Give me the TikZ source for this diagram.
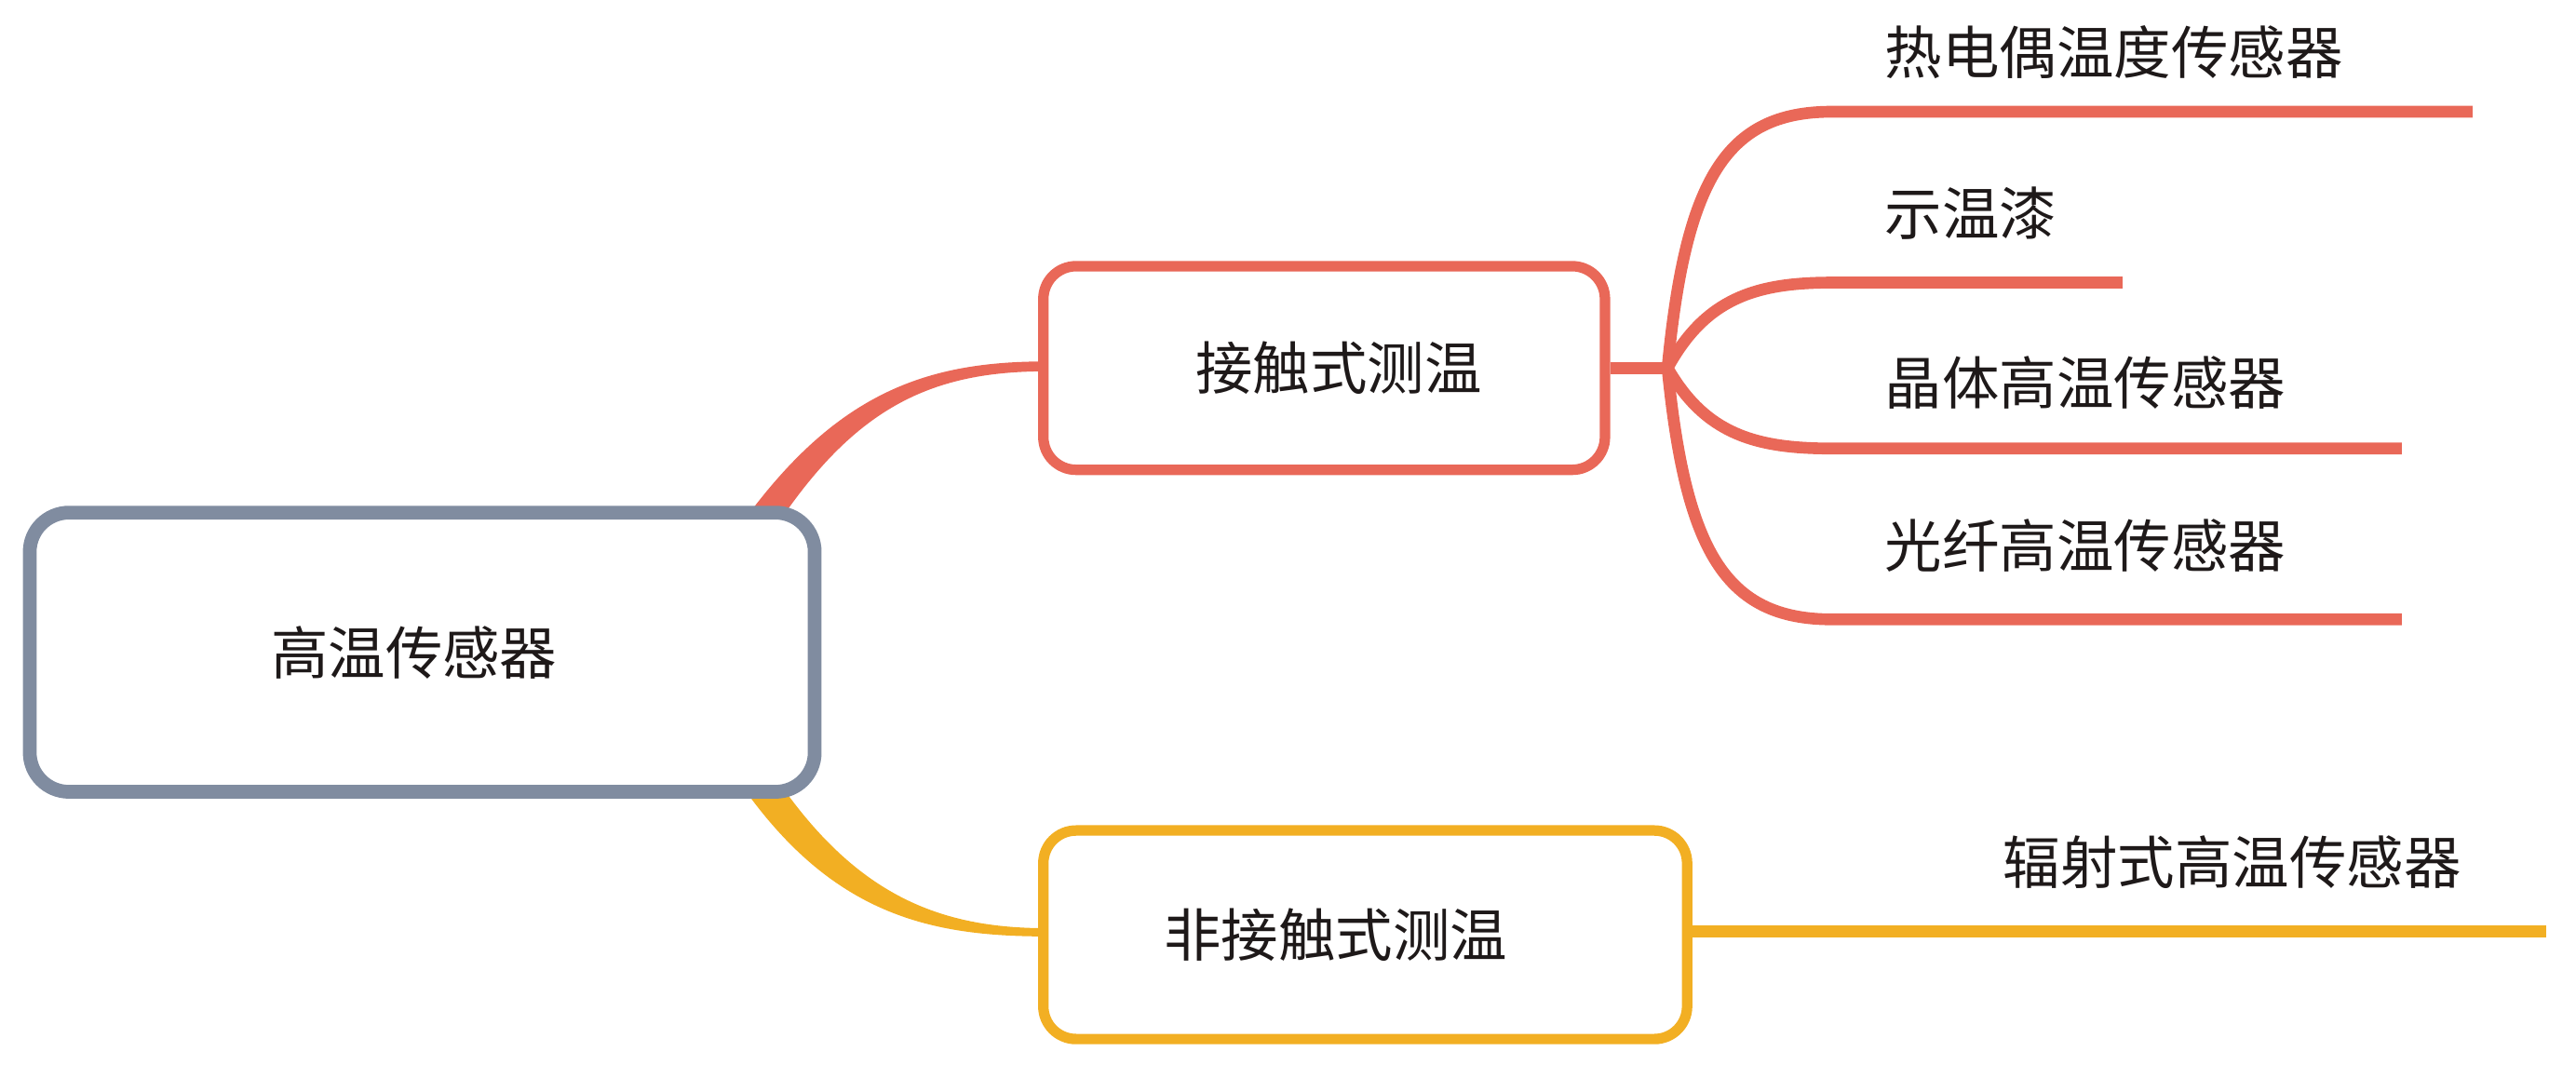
\documentclass[tikz,border=0pt]{standalone}
\usepackage{fontspec}
\setmainfont{Noto Sans CJK SC}
\definecolor{rootgray}{RGB}{128,140,160}
\definecolor{redb}{RGB}{233,104,88}
\definecolor{yelb}{RGB}{242,175,35}
\definecolor{txt}{RGB}{30,25,25}
\begin{document}
\begin{tikzpicture}[x=0.017647cm,y=-0.017647cm,
  box/.style={draw,fill=white,inner sep=0pt,font=\fontsize{17.5}{20}\selectfont,text=txt},
  leaf/.style={anchor=west,inner sep=0pt,font=\fontsize{17.5}{20}\selectfont,text=txt},
  redline/.style={draw=redb,line width=3.6pt},
  yelline/.style={draw=yelb,line width=3.8pt}]
\useasboundingbox (0,0) rectangle (1568,648);

% tapered main connectors
\coordinate (rs1) at (452,318);
\coordinate (rs2) at (474,318);
\coordinate (re1) at (637,220);
\coordinate (re2) at (637,226);
\fill[redb] (rs1) .. controls (510,238) and (565,220) .. (re1) -- (re2)
  .. controls (568,226) and (522,247) .. (rs2) -- cycle;
\coordinate (ys1) at (474,476);
\coordinate (ys2) at (450,476);
\coordinate (ye1) at (637,565);
\coordinate (ye2) at (637,570);
\fill[yelb] (ys1) .. controls (522,545) and (572,565) .. (ye1) -- (ye2)
  .. controls (566,570) and (506,557) .. (ys2) -- cycle;

% boxes
\node[box,draw=rootgray,line width=4.2pt,rounded corners=12pt,minimum width=8.435cm,minimum height=3.0cm] (root) at (257,397) {高温传感器\hspace*{5pt}};
\node[box,draw=redb,line width=3.2pt,rounded corners=10pt,minimum width=6.035cm,minimum height=2.188cm] (contact) at (806,224) {\hspace*{9pt}接触式测温};
\node[box,draw=yelb,line width=3.2pt,rounded corners=10pt,minimum width=6.918cm,minimum height=2.241cm] (noncontact) at (831,569) {非接触式测温\hspace*{18pt}};

% contact branches
\coordinate (j) at (1015,224);
\coordinate (e1) at (1505,68);
\coordinate (e2) at (1292,172);
\coordinate (e3) at (1462,273);
\coordinate (e4) at (1462,377);
\draw[redline] (contact.east) -- (j);
\draw[redline] (j) .. controls (1026,110) and (1050,68) .. (1115,68) -- (e1);
\draw[redline] (j) .. controls (1038,182) and (1068,172) .. (1115,172) -- (e2);
\draw[redline] (j) .. controls (1038,264) and (1068,273) .. (1115,273) -- (e3);
\draw[redline] (j) .. controls (1026,335) and (1050,377) .. (1115,377) -- (e4);

% non-contact branch
\coordinate (e5) at (1550,567);
\draw[yelline] (noncontact.east |- e5) -- (e5);

% leaf labels
\node[leaf] (l1) at (1147,32) {热电偶温度传感器};
\node[leaf] (l2) at (1147,130) {示温漆};
\node[leaf] (l3) at (1147,233) {晶体高温传感器};
\node[leaf] (l4) at (1147,332) {光纤高温传感器};
\node[leaf] (l5) at (1219,525) {辐射式高温传感器};
\end{tikzpicture}
\end{document}
